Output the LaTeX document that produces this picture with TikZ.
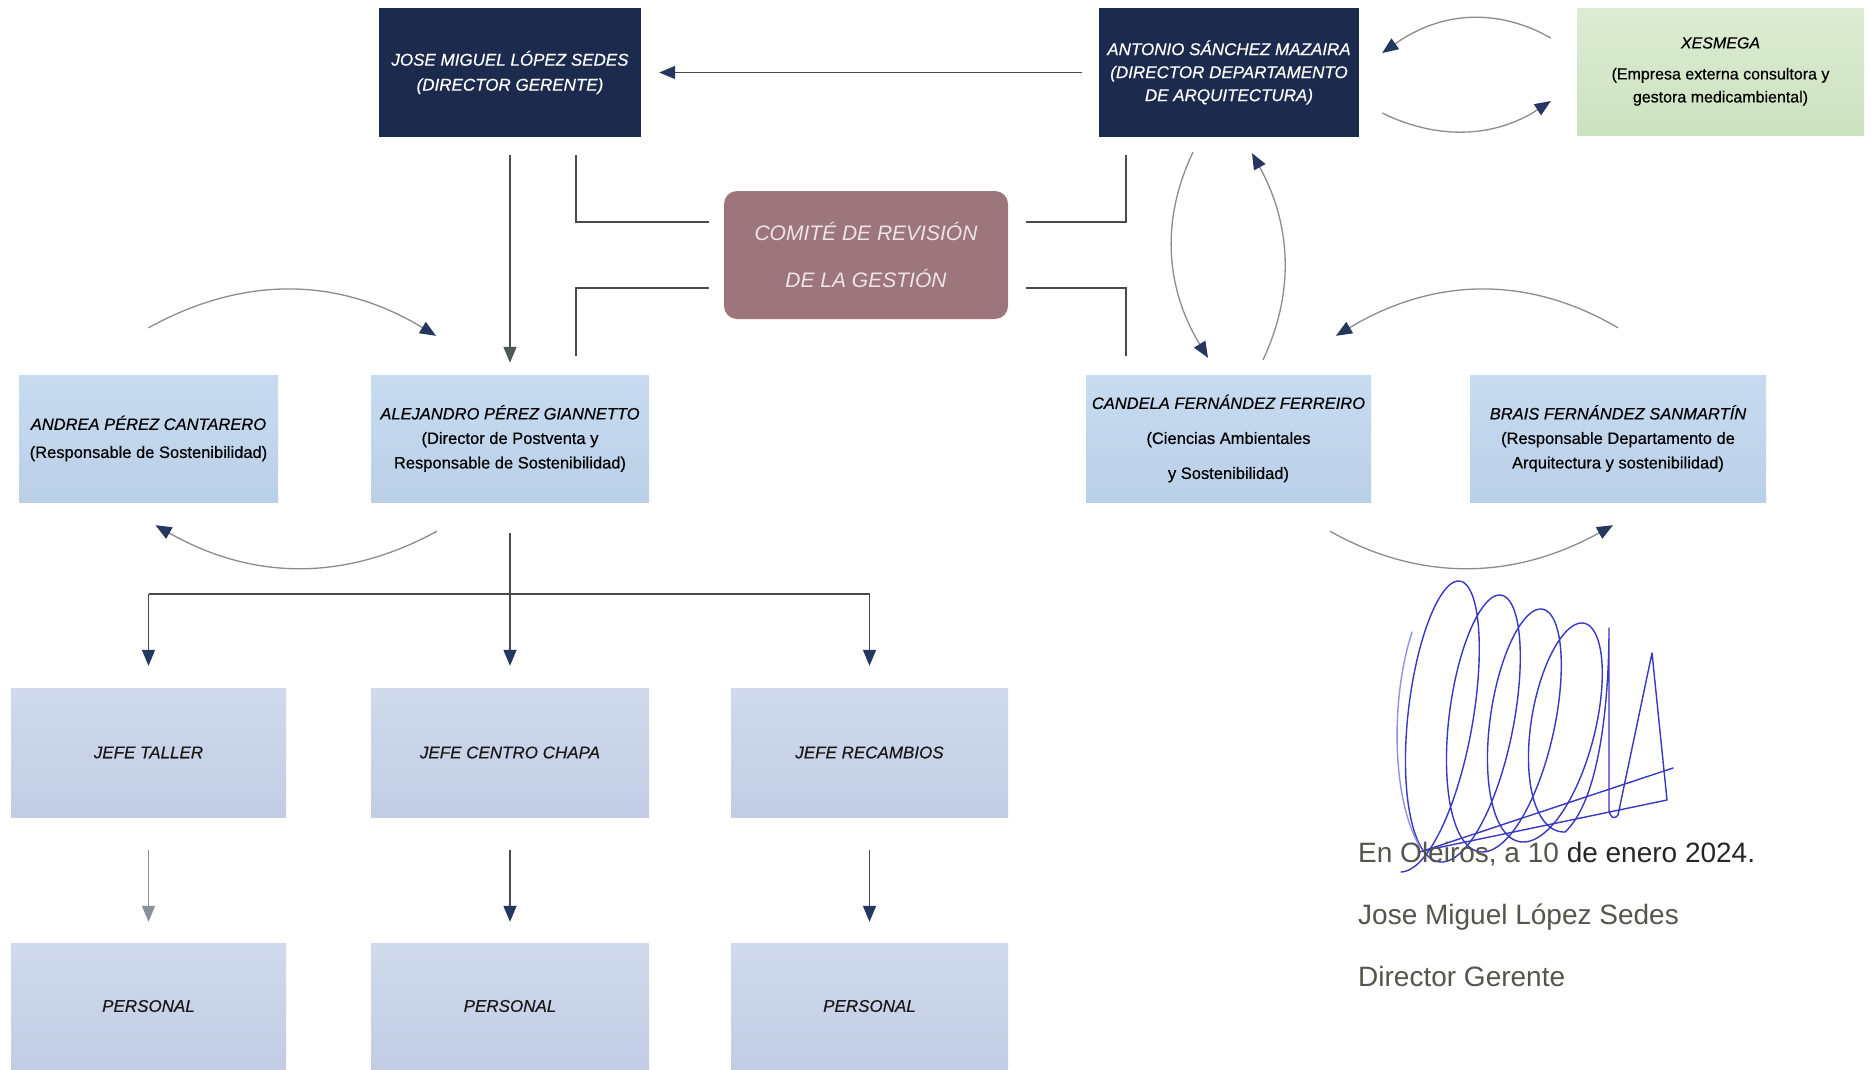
\documentclass[tikz,border=0pt]{standalone}
\usepackage{fontspec}
\setmainfont{Liberation Sans}
\newfontfamily\boxfont[FakeBold=0.5]{Liberation Sans}
\usetikzlibrary{arrows.meta,calc}
\definecolor{navy}{HTML}{1C2B4D}
\definecolor{tipc}{HTML}{25365F}
\definecolor{tipg}{HTML}{4F5A52}
\definecolor{tipl}{HTML}{8A9098}
\definecolor{lineg}{HTML}{4A4A4A}
\definecolor{arcg}{HTML}{8C8C8C}
\definecolor{lbA}{HTML}{C8DBEF}
\definecolor{lbB}{HTML}{BAD0E8}
\definecolor{jbA}{HTML}{D0DAEC}
\definecolor{jbB}{HTML}{C2CDE4}
\definecolor{grA}{HTML}{DDECD3}
\definecolor{grB}{HTML}{CBE2C0}
\definecolor{mauve}{HTML}{9D767D}
\definecolor{sigc}{HTML}{3838C2}
\definecolor{txtg}{HTML}{55554D}
\definecolor{comtxt}{HTML}{EEE4E8}
\begin{document}
\begin{tikzpicture}[x=1pt,y=-1pt,
  box/.style={inner sep=0pt, align=center},
  dark/.style={box, fill=navy, text=white, minimum height=129pt, font=\boxfont\fontsize{17}{25}\selectfont\itshape},
  light/.style={box, top color=lbA, bottom color=lbB, text=black, minimum height=127pt},
  jefebox/.style={box, top color=jbA, bottom color=jbB, text=black!90, font=\boxfont\fontsize{17}{22}\selectfont\itshape},
  arr/.style={draw=lineg, line width=1.5pt, -{Triangle[width=13pt,length=16pt,color=tipc]}},
  arcarr/.style={draw=arcg, line width=1.3pt, -{Triangle[width=13pt,length=16pt,color=tipc]}},
  elbow/.style={draw=lineg, line width=1.5pt},
  sig/.style={draw=sigc, line width=1.4pt, line join=round, line cap=round},
  sigtext/.style={inner sep=0pt, anchor=base west, font=\fontsize{28}{30}\selectfont, text=txtg}
]
\useasboundingbox[fill=white] (0,0) rectangle (1871,1069);

% top row
\node[dark, minimum width=262pt] (jose) at (510,72.5) {JOSE MIGUEL LÓPEZ SEDES\\(DIRECTOR GERENTE)};
\node[dark, minimum width=260pt, font=\boxfont\fontsize{17}{23}\selectfont\itshape] (antonio) at (1229,72.5) {ANTONIO SÁNCHEZ MAZAIRA\\(DIRECTOR DEPARTAMENTO\\DE ARQUITECTURA)};
\node[box, top color=grA, bottom color=grB, minimum width=287pt, minimum height=127pt, font=\boxfont\fontsize{16}{23}\selectfont] (xesmega) at (1720.5,71.5) {\textit{XESMEGA}\\[8pt](Empresa externa consultora y\\gestora medicambiental)};

% committee
\node[box, fill=mauve, rounded corners=13pt, minimum width=284pt, minimum height=128pt, text=comtxt, font=\fontsize{21}{47}\selectfont\itshape] (comite) at (866,255) {COMITÉ DE REVISIÓN\\DE LA GESTIÓN};

% second row
\node[light, minimum width=259pt, font=\boxfont\fontsize{16.5}{28}\selectfont] (andrea) at (148.5,438.5) {\textit{ANDREA PÉREZ CANTARERO}\\(Responsable de Sostenibilidad)};
\node[light, minimum width=278pt, font=\boxfont\fontsize{16.5}{24.5}\selectfont] (alejandro) at (510,438.5) {\textit{ALEJANDRO PÉREZ GIANNETTO}\\(Director de Postventa y\\Responsable de Sostenibilidad)};
\node[light, minimum width=285pt, font=\boxfont\fontsize{16.5}{35}\selectfont] (candela) at (1228.5,438.5) {\textit{CANDELA FERNÁNDEZ FERREIRO}\\(Ciencias Ambientales\\y Sostenibilidad)};
\node[light, minimum width=296pt, font=\boxfont\fontsize{16.5}{24.5}\selectfont] (brais) at (1618,438.5) {\textit{BRAIS FERNÁNDEZ SANMARTÍN}\\(Responsable Departamento de\\Arquitectura y sostenibilidad)};

% jefes
\node[jefebox, minimum width=275pt, minimum height=129pt] (jefe1) at (148.5,752.5) {JEFE TALLER};
\node[jefebox, minimum width=278pt, minimum height=129pt] (jefe2) at (510,752.5) {JEFE CENTRO CHAPA};
\node[jefebox, minimum width=277pt, minimum height=129pt] (jefe3) at (869.5,752.5) {JEFE RECAMBIOS};

% personal
\node[jefebox, minimum width=275pt, minimum height=126pt] (pers1) at (148.5,1006) {PERSONAL};
\node[jefebox, minimum width=278pt, minimum height=126pt] (pers2) at (510,1006) {PERSONAL};
\node[jefebox, minimum width=277pt, minimum height=126pt] (pers3) at (869.5,1006) {PERSONAL};

% main arrows
\draw[arr] ([shift={(-17,0)}]antonio.west) -- ([shift={(18,0)}]jose.east);
\draw[arr, -{Triangle[width=13pt,length=16pt,color=tipg]}] ([shift={(0,18)}]jose.south) -- ([shift={(0,-12)}]alejandro.north);

% committee elbows
\draw[elbow] ([shift={(66,18)}]jose.south) |- ([shift={(-15,-33)}]comite.west);
\draw[elbow] ([shift={(-15,33)}]comite.west) -| ([shift={(66,-19)}]alejandro.north);
\draw[elbow] ([shift={(18,-33)}]comite.east) -| ([shift={(-103,18)}]antonio.south);
\draw[elbow] ([shift={(18,33)}]comite.east) -| ([shift={(-102.5,-19)}]candela.north);

% curved arrows
\draw[arcarr] ([shift={(0,-47)}]andrea.north) .. controls (244,275) and (339,277) .. ([shift={(-74,-39)}]alejandro.north);
\draw[arcarr] ([shift={(-73,29)}]alejandro.south) .. controls (344,582) and (252,580) .. ([shift={(7,23)}]andrea.south);
\draw[arcarr] ([shift={(-26,-33.5)}]xesmega.west) .. controls (1496,7) and (1440,12) .. ([shift={(23,-19.5)}]antonio.east);
\draw[arcarr] ([shift={(23,40.5)}]antonio.east) .. controls (1439,141) and (1496,137) .. ([shift={(-26,29.5)}]xesmega.west);
\draw[arcarr] ([shift={(-36,15)}]antonio.south) .. controls (1160,221) and (1166,289) .. ([shift={(-20.5,-17)}]candela.north);
\draw[arcarr] ([shift={(34.5,-15)}]candela.north) .. controls (1296,290) and (1290,222) .. ([shift={(23,16)}]antonio.south);
\draw[arcarr] ([shift={(0,-47)}]brais.north) .. controls (1528,275) and (1434,277) .. ([shift={(107.5,-39)}]candela.north);
\draw[arcarr] ([shift={(101.5,29)}]candela.south) .. controls (1420,582) and (1514,580) .. ([shift={(-5,23)}]brais.south);

% distribution
\coordinate (bus) at (510,594);
\draw[elbow] ([shift={(0,31)}]alejandro.south) -- (bus);
\draw[elbow] (bus -| jefe1.north) -- (bus -| jefe3.north);
\draw[arr] (bus -| jefe1.north) -- ([shift={(0,-22)}]jefe1.north);
\draw[arr] (bus) -- ([shift={(0,-22)}]jefe2.north);
\draw[arr] (bus -| jefe3.north) -- ([shift={(0,-22)}]jefe3.north);

\draw[arr, draw=tipl, -{Triangle[width=13pt,length=16pt,color=tipl]}] ([shift={(0,33)}]jefe1.south) -- ([shift={(0,-21)}]pers1.north);
\draw[arr] ([shift={(0,33)}]jefe2.south) -- ([shift={(0,-21)}]pers2.north);
\draw[arr] ([shift={(0,33)}]jefe3.south) -- ([shift={(0,-21)}]pers3.north);

% signature scribble
\draw[sig] plot[domain=0:1440, samples=420, smooth, variable=\t]
  ({1401 + 41*(\t/360) + 43*sin(\t) + 18.25*(1-cos(\t))},
   {872 - 10*(\t/360) - (298 - 24*(\t/360))*(1-cos(\t))/2});
\draw[sig] (1565,832) .. controls (1600,800) and (1609,700) .. (1609,628) -- (1609,810) .. controls (1610,818) and (1615,820) .. (1618,815) -- (1652,653) -- (1667,800) -- (1427,850);
\draw[sig] (1420,852) -- (1673,768);
\draw[sig, draw=sigc!55] (1412,632) .. controls (1390,700) and (1392,800) .. (1420,847);

% signature text
\node[sigtext] (sig1) at (1358,862) {En Oleiros, a 10 \textcolor{black!85}{de enero 2024.}};
\node[sigtext] (sig2) at (1358,924) {Jose Miguel López Sedes};
\node[sigtext] (sig3) at (1358,986) {Director Gerente};
\end{tikzpicture}
\end{document}
